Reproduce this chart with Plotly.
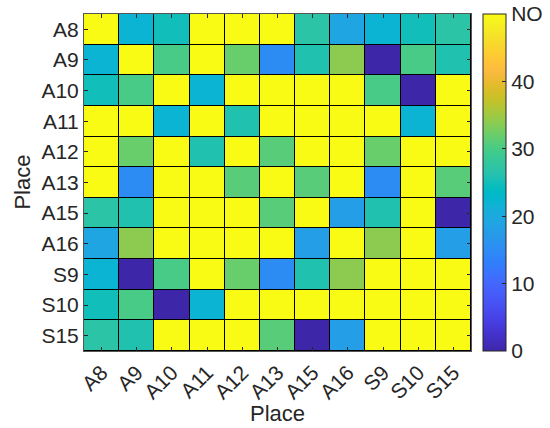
import plotly.graph_objects as go

# Sites compared on both axes
places = ["A8", "A9", "A10", "A11", "A12", "A13", "A15", "A16", "S9", "S10", "S15"]

# Pairwise values (symmetric); 50 is the top of the scale, labelled "NO"
row_A8  = [50, 22, 25, 50, 50, 50, 27, 19, 22, 25, 27]
row_A9  = [22, 50, 30, 50, 32, 15, 26, 34, 0, 30, 26]
row_A10 = [25, 30, 50, 22, 50, 50, 50, 50, 30, 0, 50]
row_A11 = [50, 50, 22, 50, 26, 50, 50, 50, 50, 22, 50]
row_A12 = [50, 32, 50, 26, 50, 31, 50, 50, 32, 50, 50]
row_A13 = [50, 15, 50, 50, 31, 50, 31, 50, 15, 50, 31]
row_A15 = [27, 26, 50, 50, 50, 31, 50, 18, 26, 50, 0]
row_A16 = [19, 34, 50, 50, 50, 50, 18, 50, 34, 50, 18]
row_S9  = [22, 0, 30, 50, 32, 15, 26, 34, 50, 50, 50]
row_S10 = [25, 30, 0, 22, 50, 50, 50, 50, 50, 50, 50]
row_S15 = [27, 26, 50, 50, 50, 31, 0, 18, 50, 50, 50]

values = [row_A8, row_A9, row_A10, row_A11, row_A12, row_A13,
          row_A15, row_A16, row_S9, row_S10, row_S15]

# Colour bar ticks
cbar_vals = [0, 10, 20, 30, 40, 50]
cbar_text = ["0", "10", "20", "30", "40", "NO"]

# Parula colormap (64 entries)
parula = [
    (0.2422, 0.1504, 0.6603), (0.2504, 0.1650, 0.7076), (0.2578, 0.1818, 0.7511),
    (0.2647, 0.1978, 0.7952), (0.2706, 0.2147, 0.8364), (0.2751, 0.2342, 0.8710),
    (0.2783, 0.2559, 0.8991), (0.2803, 0.2782, 0.9221), (0.2813, 0.3006, 0.9409),
    (0.2810, 0.3228, 0.9579), (0.2795, 0.3447, 0.9717), (0.2760, 0.3667, 0.9829),
    (0.2699, 0.3892, 0.9906), (0.2602, 0.4123, 0.9952), (0.2440, 0.4358, 0.9988),
    (0.2206, 0.4603, 0.9973), (0.1963, 0.4847, 0.9892), (0.1834, 0.5074, 0.9798),
    (0.1786, 0.5289, 0.9682), (0.1764, 0.5499, 0.9520), (0.1687, 0.5703, 0.9359),
    (0.1540, 0.5902, 0.9218), (0.1460, 0.6091, 0.9079), (0.1380, 0.6276, 0.8973),
    (0.1248, 0.6459, 0.8883), (0.1113, 0.6635, 0.8763), (0.0952, 0.6798, 0.8598),
    (0.0689, 0.6948, 0.8394), (0.0297, 0.7082, 0.8163), (0.0036, 0.7203, 0.7917),
    (0.0067, 0.7312, 0.7660), (0.0433, 0.7411, 0.7394), (0.0964, 0.7500, 0.7120),
    (0.1408, 0.7584, 0.6842), (0.1717, 0.7670, 0.6554), (0.1938, 0.7758, 0.6251),
    (0.2161, 0.7843, 0.5923), (0.2470, 0.7918, 0.5567), (0.2906, 0.7973, 0.5188),
    (0.3406, 0.8008, 0.4789), (0.3909, 0.8029, 0.4354), (0.4456, 0.8024, 0.3909),
    (0.5044, 0.7993, 0.3480), (0.5616, 0.7942, 0.3045), (0.6174, 0.7876, 0.2612),
    (0.6720, 0.7793, 0.2227), (0.7242, 0.7698, 0.1910), (0.7738, 0.7598, 0.1646),
    (0.8203, 0.7498, 0.1535), (0.8634, 0.7406, 0.1596), (0.9035, 0.7330, 0.1774),
    (0.9393, 0.7288, 0.2100), (0.9728, 0.7298, 0.2394), (0.9956, 0.7434, 0.2371),
    (0.9970, 0.7659, 0.2199), (0.9952, 0.7893, 0.2028), (0.9892, 0.8136, 0.1885),
    (0.9786, 0.8386, 0.1766), (0.9676, 0.8639, 0.1643), (0.9610, 0.8890, 0.1537),
    (0.9597, 0.9135, 0.1423), (0.9628, 0.9373, 0.1265), (0.9691, 0.9606, 0.1064),
    (0.9769, 0.9839, 0.0805),
]
n = len(parula)
colorscale = [
    [i / (n - 1), "rgb(%d,%d,%d)" % tuple(round(c * 255) for c in rgb)]
    for i, rgb in enumerate(parula)
]

FONT = "Liberation Sans, Arial, sans-serif"
INK = "#262626"
TICK_SIZE = 21
TITLE_SIZE = 22

fig = go.Figure(
    go.Heatmap(
        z=values,
        x=places,
        y=places,
        zmin=0,
        zmax=50,
        colorscale=colorscale,
        xgap=1,
        ygap=1,
        colorbar=dict(
            x=1.031,
            xanchor="left",
            xpad=0,
            ypad=0,
            y=0.5,
            yanchor="middle",
            len=1,
            lenmode="fraction",
            thickness=23,
            outlinecolor=INK,
            outlinewidth=1,
            tickvals=cbar_vals,
            ticktext=cbar_text,
            ticks="inside",
            ticklen=4,
            tickcolor=INK,
            tickfont=dict(family=FONT, size=TICK_SIZE, color=INK),
        ),
    )
)

axis_common = dict(
    showline=True,
    linecolor="#555555",
    linewidth=1,
    mirror="ticks",
    ticks="inside",
    ticklen=4,
    tickcolor=INK,
    tickfont=dict(family=FONT, size=TICK_SIZE, color=INK),
    showgrid=False,
    zeroline=False,
    automargin=False,
)

fig.update_xaxes(**axis_common, tickangle=-45)
fig.update_yaxes(**axis_common, autorange="reversed")

# Axis titles placed as paper-anchored text
title_font = dict(family=FONT, size=TITLE_SIZE, color=INK)
fig.add_annotation(text="Place", xref="paper", yref="paper", x=0.5, y=-0.184,
                   xanchor="center", yanchor="middle", showarrow=False, font=title_font)
fig.add_annotation(text="Place", xref="paper", yref="paper", x=-0.160, y=0.5,
                   xanchor="center", yanchor="middle", textangle=-90,
                   showarrow=False, font=title_font)

fig.update_layout(
    width=550,
    height=428,
    margin=dict(l=84, r=79, t=14, b=77, autoexpand=False),
    paper_bgcolor="white",
    plot_bgcolor="black",
    font=dict(family=FONT, color=INK),
)

fig.write_html("out.html")
